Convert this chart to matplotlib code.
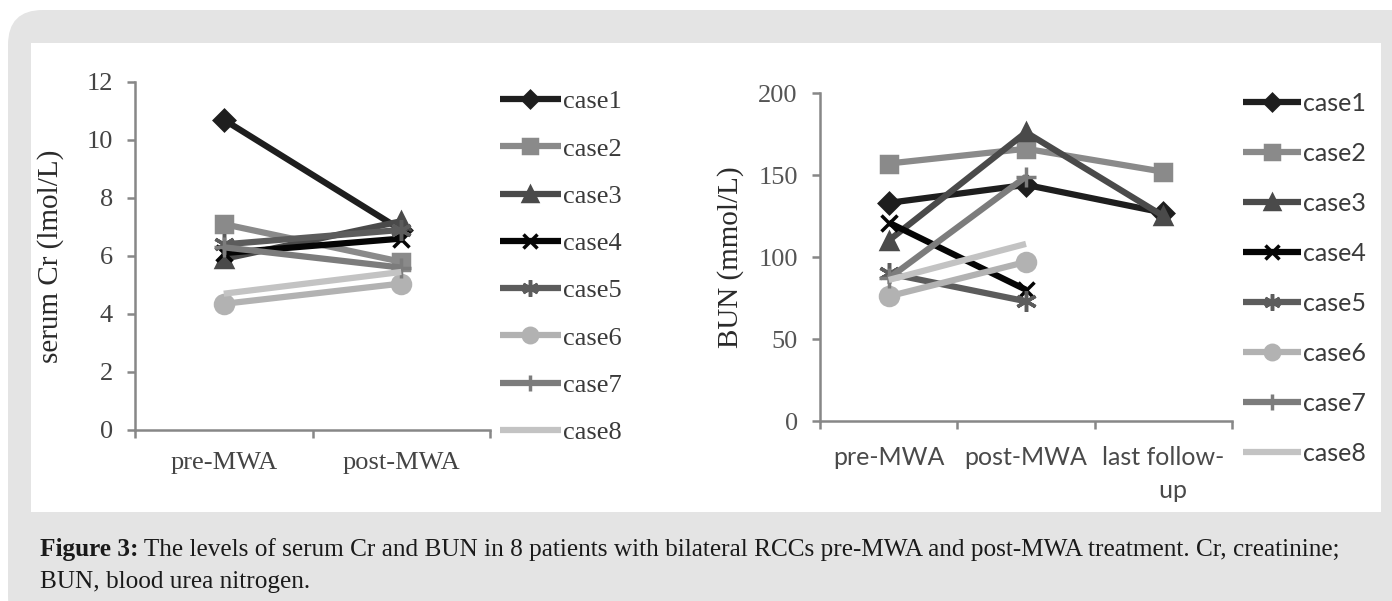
import numpy as np
import matplotlib
matplotlib.use('Agg')
import matplotlib.pyplot as plt
from matplotlib.patches import FancyBboxPatch, Rectangle

# data
cases = ['case1', 'case2', 'case3', 'case4', 'case5', 'case6', 'case7', 'case8']
crStages = ['pre-MWA', 'post-MWA']
bunStages = ['pre-MWA', 'post-MWA', 'last follow-\n   up']

crPre = [10.7, 7.1, 5.9, 6.1, 6.4, 4.35, 6.3, 4.7]
crPost = [6.9, 5.8, 7.2, 6.6, 6.9, 5.05, 5.6, 5.45]

bunPre = [133, 157, 110, 121, 90, 76, 87, 86]
bunPost = [144, 166, 176, 80, 73, 97, 149, 108]
bunLast = [127, 152, 125, np.nan, np.nan, np.nan, np.nan, np.nan]

colors = ['#1e1e1e', '#8a8a8a', '#4a4a4a', '#050505', '#5c5c5c', '#b2b2b2', '#7c7c7c', '#c3c3c3']
markers = ['D', 's', '^', 'x', (6, 2, 0), 'o', '+', None]
msizes = [10, 12, 12, 12, 15, 13, 14, 0]

W, H = 1392, 601
fig = plt.figure(figsize=(W / 100, H / 100), dpi=100, facecolor='white')


def px(x0, y0, x1, y1):
    # pixel box (top-left origin) -> figure fraction rect
    return [x0 / W, 1 - y1 / H, (x1 - x0) / W, (y1 - y0) / H]


# grey card with white panel
fig.patches.append(FancyBboxPatch((8 / W, -0.05), 1.2, 1 - 10 / H + 0.05,
                                  boxstyle='round,pad=0,rounding_size=0.025',
                                  transform=fig.transFigure, facecolor='#e4e4e4',
                                  edgecolor='none', zorder=-2, mutation_aspect=W / H))
fig.patches.append(Rectangle((31 / W, 1 - 512 / H), (1381 - 31) / W, (512 - 43) / H,
                             transform=fig.transFigure, facecolor='white',
                             edgecolor='none', zorder=-1))

axisGrey = '#878787'


def styleAxes(ax, ncat, tickSize, tickColor, xpad):
    for s in ['top', 'right']:
        ax.spines[s].set_visible(False)
    for s in ['left', 'bottom']:
        ax.spines[s].set_color(axisGrey)
        ax.spines[s].set_linewidth(1.8)
    ax.set_xlim(-0.5, ncat - 0.5)
    ax.set_xticks(np.arange(-0.5, ncat, 1.0))
    ax.set_xticklabels([])
    ax.tick_params(axis='both', which='major', direction='out', length=6,
                   width=1.8, color=axisGrey)
    ax.tick_params(axis='y', labelsize=tickSize, labelcolor=tickColor, pad=10)
    ax.tick_params(axis='x', which='minor', length=0, pad=xpad, labelsize=tickSize,
                   labelcolor=tickColor)
    ax.set_facecolor('none')


# ---- left: serum Cr ----
ax1 = fig.add_axes(px(135, 82, 490, 430))
for i, c in enumerate(cases):
    ax1.plot([0, 1], [crPre[i], crPost[i]], color=colors[i], lw=4.5,
             marker=markers[i], ms=msizes[i], mew=2.5, label=c, solid_capstyle='butt')
ax1.set_ylim(0, 12)
ax1.set_yticks(range(0, 13, 2))
styleAxes(ax1, 2, 19, '#444444', 16)
ax1.set_xticks([0, 1], minor=True)
ax1.set_xticklabels(crStages, minor=True, family='Liberation Serif')
for t in ax1.get_yticklabels():
    t.set_family('Liberation Serif')
ax1.set_ylabel('serum Cr (lmol/L)', family='Liberation Serif', fontsize=21,
               color='#2a2a2a', labelpad=16)
h, l = ax1.get_legend_handles_labels()
fig.legend(h, l, loc='upper left', bbox_to_anchor=(500 / W, 1 - 90 / H), frameon=False,
           prop={'family': 'Liberation Serif', 'size': 19}, labelcolor='#3a3a3a',
           handlelength=2.3, handletextpad=0.1, labelspacing=0.9, borderpad=0,
           borderaxespad=0, markerscale=0.8)

# ---- right: BUN ----
ax2 = fig.add_axes(px(820, 93, 1232, 421))
for i, c in enumerate(cases):
    ax2.plot([0, 1, 2], [bunPre[i], bunPost[i], bunLast[i]], color=colors[i], lw=4.5,
             marker=markers[i], ms=msizes[i], mew=2.5, label=c, solid_capstyle='butt')
ax2.set_ylim(0, 200)
ax2.set_yticks(range(0, 201, 50))
styleAxes(ax2, 3, 18, '#4a4a4a', 18)
ax2.set_xticks([0, 1, 2], minor=True)
ax2.set_xticklabels(bunStages, minor=True, family='Lato', linespacing=1.5)
for t in ax2.get_yticklabels():
    t.set_family('Liberation Serif')
    t.set_fontsize(19)
    t.set_color('#555555')
ax2.set_ylabel('BUN (mmol/L)', family='Liberation Serif', fontsize=21,
               color='#2a2a2a', labelpad=10)
h, l = ax2.get_legend_handles_labels()
fig.legend(h, l, loc='upper left', bbox_to_anchor=(1243 / W, 1 - 92 / H), frameon=False,
           prop={'family': 'Lato', 'size': 18}, labelcolor='#3a3a3a',
           handlelength=2.3, handletextpad=0.1, labelspacing=1.08, borderpad=0,
           borderaxespad=0, markerscale=0.8)

# ---- caption ----
capFont = 'Liberation Serif'
capSize = 18.2
t1 = fig.text(40 / W, 1 - 556 / H, 'Figure 3:', family=capFont, fontsize=capSize,
              weight='bold', color='#1a1a1a', va='baseline')
fig.text(40 / W, 1 - 588 / H, 'BUN, blood urea nitrogen.', family=capFont,
         fontsize=capSize, color='#1a1a1a', va='baseline')
fig.canvas.draw()
bb = t1.get_window_extent()
fig.text(bb.x1 / W, 1 - 556 / H, ' The levels of serum Cr and BUN in 8 patients with '
         'bilateral RCCs pre-MWA and post-MWA treatment. Cr, creatinine;',
         family=capFont, fontsize=capSize, color='#1a1a1a', va='baseline')

fig.savefig('out.png', dpi=100, facecolor='white')
